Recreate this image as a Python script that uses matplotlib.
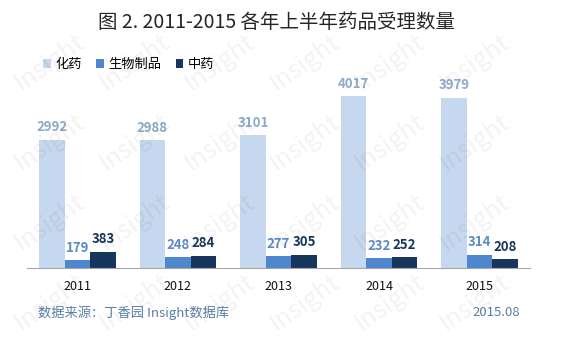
import numpy as np
import matplotlib.pyplot as plt

plt.rcParams['font.family'] = ['Noto Sans CJK SC', 'DejaVu Sans']

years = ['2011', '2012', '2013', '2014', '2015']
chem = [2992, 2988, 3101, 4017, 3979]
bio = [179, 248, 277, 232, 314]
tcm = [383, 284, 305, 252, 208]
series_names = ['化药', '生物制品', '中药']

colors = ['#C6D8EF', '#4F87CF', '#17365D']
label_colors = ['#8EAACB', '#5B8AC6', '#17365D']

fig = plt.figure(figsize=(5.65, 3.53), dpi=100)
W, H = 565, 353
ax = fig.add_axes([27 / W, 1 - 268 / H, 503 / W, 183 / H])

# watermark
for yy in [62, 142, 222, 302]:
    for xx in range(50, 530, 85):
        fig.text(xx / W, 1 - yy / H, 'Insight', rotation=35, color='black', alpha=0.05,
                 fontsize=18, ha='center', va='center', zorder=5)

x = np.arange(len(years))
w = 0.254
for i, (vals, c, lc) in enumerate(zip([chem, bio, tcm], colors, label_colors)):
    bars = ax.bar(x + (i - 1) * w, vals, w, color=c, label=series_names[i], zorder=2)
    for b, v in zip(bars, vals):
        ax.annotate(str(v), (b.get_x() + b.get_width() / 2, v), xytext=(0, 4),
                    textcoords='offset points', ha='center', va='bottom',
                    color=lc, fontsize=9.5, fontweight='bold')

ax.set_xlim(-0.5, 4.5)
ax.set_ylim(0, 183 / 0.0428)
ax.patch.set_alpha(0)
for s in ['top', 'right', 'left']:
    ax.spines[s].set_visible(False)
ax.spines['bottom'].set_color('#A6A6A6')
ax.set_yticks([])
ax.set_xticks(x)
ax.set_xticklabels(years, fontsize=9, color='#111111')
ax.tick_params(axis='x', length=0, pad=9)

fig.text(276 / W, 1 - 23 / H, '图 2. 2011-2015 各年上半年药品受理数量', ha='center',
         va='center', fontsize=14, color='#262626')

ax.legend(loc='upper left', bbox_to_anchor=(38 / W, 1 - 53 / H), bbox_transform=fig.transFigure,
          ncol=3, frameon=False, fontsize=9.5, handlelength=0.6, handleheight=0.6,
          handletextpad=0.3, columnspacing=1.1, borderaxespad=0)

fig.text(38 / W, 1 - 313 / H, '数据来源：丁香园 Insight数据库', ha='left', va='center',
         fontsize=9.5, color='#5B7FA6')
fig.text(496 / W, 1 - 312 / H, '2015.08', ha='center', va='center',
         fontsize=9.5, color='#5B7FA6')

fig.savefig('out.png', dpi=100)
